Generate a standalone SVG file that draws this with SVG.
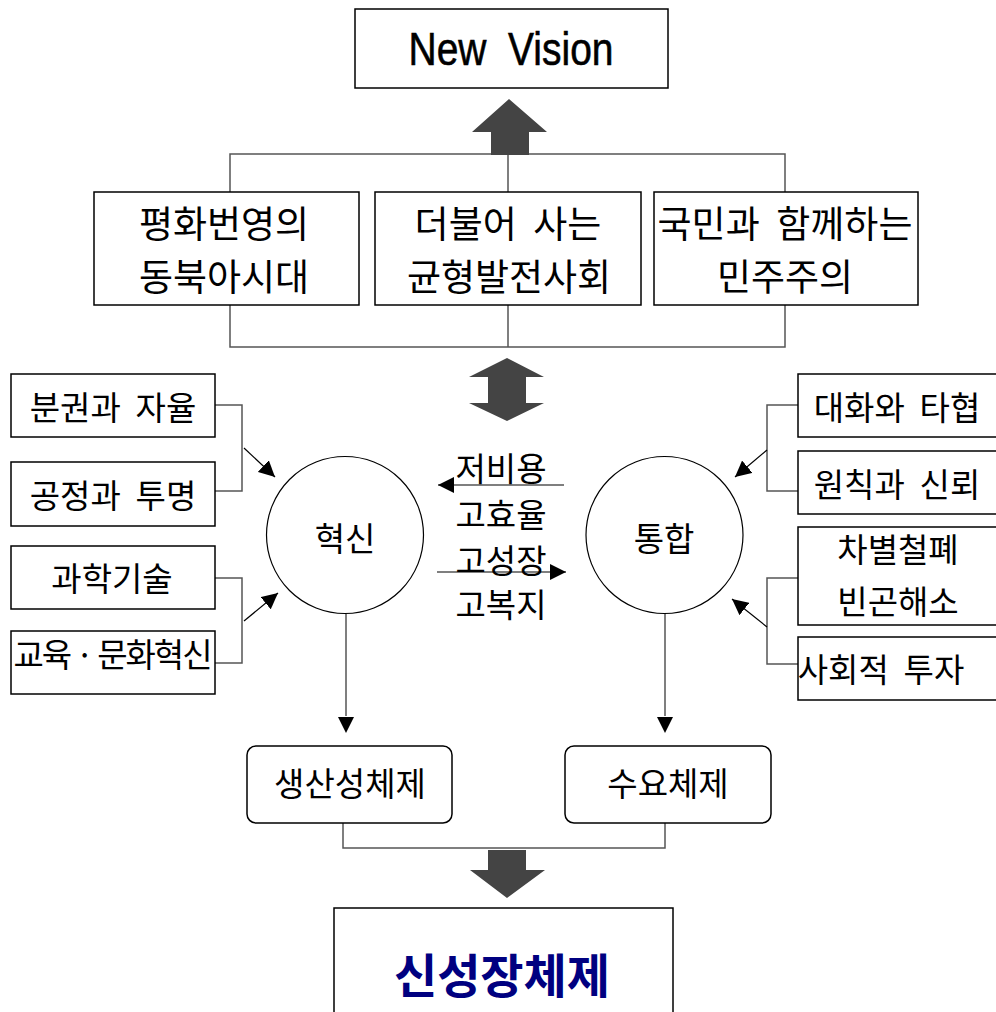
<svg xmlns="http://www.w3.org/2000/svg" width="996" height="1012" viewBox="0 0 996 1012">
<defs>
<style>
.box{fill:#fff;stroke:#000;stroke-width:1.5}
.cir{fill:#fff;stroke:#000;stroke-width:1.2}
.ln{fill:none;stroke:#555;stroke-width:1.5}
.al{fill:none;stroke:#000;stroke-width:1.2}
.big{fill:#444}
.t{font-family:"Noto Sans CJK KR","Noto Sans",sans-serif;font-size:33px;fill:#000;text-anchor:middle}
.tl{font-family:"Noto Sans CJK KR","Noto Sans",sans-serif;font-size:37px;fill:#000;text-anchor:middle}
</style>
<marker id="ah" viewBox="0 0 16 16" refX="16" refY="8" markerWidth="16" markerHeight="16" markerUnits="userSpaceOnUse" orient="auto">
<path d="M0,0 L16,8 L0,16 Z" fill="#000"/>
</marker>
</defs>

<g id="connectors">
<path class="ln" d="M230,192 V154 H785 V192 M508,154 V192"/>
<path class="ln" d="M230,305 V347 H785 V305 M508,305 V347"/>
<path class="ln" d="M215,405 H242 V491 H215"/>
<path class="al" d="M244,448 L275,477" marker-end="url(#ah)"/>
<path class="ln" d="M215,578 H242 V663 H215"/>
<path class="al" d="M244,621 L278,593" marker-end="url(#ah)"/>
<path class="ln" d="M798,405 H767 V491 H798"/>
<path class="al" d="M767,450 L735,477" marker-end="url(#ah)"/>
<path class="ln" d="M798,578 H767 V664 H798"/>
<path class="al" d="M767,627 L732,599" marker-end="url(#ah)"/>
<path class="al" d="M564,485 H438" marker-end="url(#ah)"/>
<path class="al" d="M437,572 H566" marker-end="url(#ah)"/>
<path class="ln" d="M346,614 V716"/>
<path d="M338,717 L354,717 L346,733 Z" fill="#000"/>
<path class="ln" d="M665,614 V716"/>
<path d="M657,717 L673,717 L665,733 Z" fill="#000"/>
<path class="ln" d="M343,823 V848 H665 V823"/>
<path class="big" d="M509,99 L547,132 L529,132 L529,155 L491,155 L491,132 L472,132 Z"/>
<path class="big" d="M507,358 L544,377 L526,377 L526,403 L544,403 L507,421 L469,403 L488,403 L488,377 L469,377 Z"/>
<path class="big" d="M488,850 L526,850 L526,870 L545,870 L507,898 L470,870 L488,870 Z"/>
</g>

<g id="new-vision">
<rect class="box" x="355" y="9" width="313" height="79"/>
<text x="511" y="65" font-family="'Liberation Sans',Arial,sans-serif" font-size="46" stroke="#000" stroke-width="0.6" text-anchor="middle" textLength="205" lengthAdjust="spacingAndGlyphs" xml:space="preserve">New  Vision</text>
</g>

<g id="peace">
<rect class="box" x="94" y="192" width="265" height="113"/>
<text class="tl" x="224" y="238">평화번영의</text>
<text class="tl" x="224" y="291">동북아시대</text>
</g>
<g id="together">
<rect class="box" x="375" y="192" width="266" height="113"/>
<text class="tl" x="508" y="238" xml:space="preserve">더불어  사는</text>
<text class="tl" x="509" y="291">균형발전사회</text>
</g>
<g id="democracy">
<rect class="box" x="654" y="192" width="264" height="113"/>
<text class="tl" x="785" y="238" xml:space="preserve">국민과  함께하는</text>
<text class="tl" x="785" y="291">민주주의</text>
</g>

<g id="decentral">
<rect class="box" x="11" y="374" width="204" height="63"/>
<text class="t" x="113" y="420" xml:space="preserve">분권과  자율</text>
</g>
<g id="fair">
<rect class="box" x="11" y="462" width="204" height="64"/>
<text class="t" x="113" y="508" xml:space="preserve">공정과  투명</text>
</g>
<g id="science">
<rect class="box" x="11" y="546" width="204" height="63"/>
<text class="t" x="112" y="591">과학기술</text>
</g>
<g id="education">
<rect class="box" x="11" y="631" width="204" height="63"/>
<text class="t" x="113" y="667" textLength="199" lengthAdjust="spacing">교육 · 문화혁신</text>
</g>

<g id="dialogue">
<rect class="box" x="798" y="374" width="210" height="63"/>
<text class="t" x="897" y="420" xml:space="preserve">대화와  타협</text>
</g>
<g id="principle">
<rect class="box" x="798" y="451" width="210" height="63"/>
<text class="t" x="897" y="497" xml:space="preserve">원칙과  신뢰</text>
</g>
<g id="discrimination">
<rect class="box" x="798" y="527" width="210" height="98"/>
<text class="t" x="898" y="562">차별철폐</text>
<text class="t" x="898" y="614">빈곤해소</text>
</g>
<g id="social">
<rect class="box" x="798" y="637" width="210" height="63"/>
<text class="t" x="881" y="682" xml:space="preserve">사회적  투자</text>
</g>

<g id="innovation">
<circle class="cir" cx="345" cy="535" r="78.5"/>
<text class="t" x="345" y="551">혁신</text>
</g>
<g id="integration">
<circle class="cir" cx="664.5" cy="535" r="78.5"/>
<text class="t" x="664" y="551">통합</text>
</g>

<g id="middle-labels">
<text class="t" x="501" y="481">저비용</text>
<text class="t" x="501" y="527">고효율</text>
<text class="t" x="501" y="573">고성장</text>
<text class="t" x="501" y="617">고복지</text>
</g>

<g id="productivity">
<rect class="box" x="247" y="746" width="205" height="77" rx="9"/>
<text class="t" x="350" y="796">생산성체제</text>
</g>
<g id="demand">
<rect class="box" x="565" y="746" width="206" height="77" rx="9"/>
<text class="t" x="668" y="796">수요체제</text>
</g>

<g id="new-growth">
<rect class="box" x="334" y="908" width="339" height="120"/>
<text x="502" y="993" font-family="'Noto Sans CJK KR',sans-serif" font-size="47" font-weight="bold" fill="#000080" text-anchor="middle">신성장체제</text>
</g>
</svg>
